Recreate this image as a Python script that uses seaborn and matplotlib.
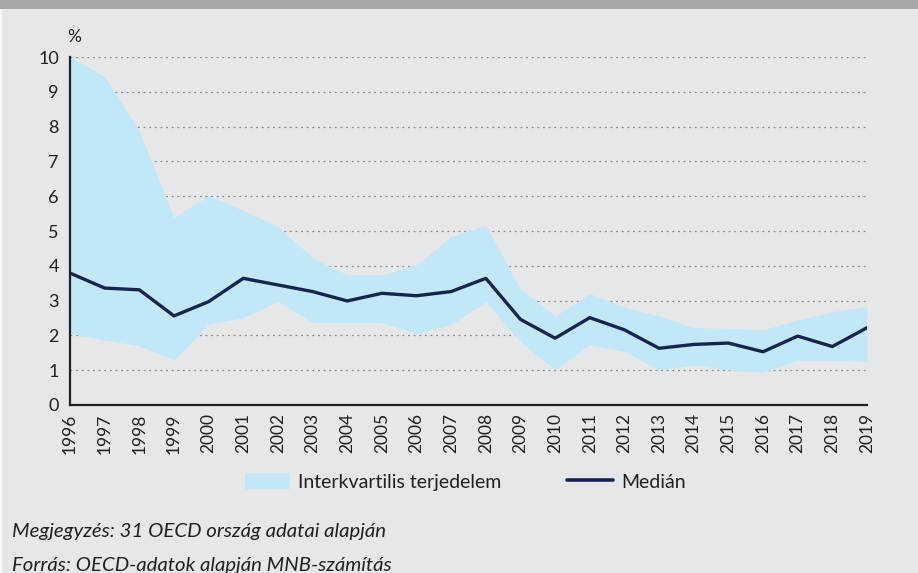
import matplotlib
matplotlib.use("Agg")
import matplotlib.pyplot as plt
import pandas as pd
import seaborn as sns
from matplotlib.lines import Line2D
from matplotlib.patches import Patch, Rectangle

# --- data ---
years = list(range(1996, 2020))
q_upper = [10.0, 9.44, 7.86, 5.39, 6.02, 5.59, 5.13, 4.23, 3.74, 3.74, 4.03, 4.84,
           5.16, 3.33, 2.56, 3.20, 2.81, 2.56, 2.22, 2.21, 2.16, 2.44, 2.68, 2.83]
q_lower = [2.06, 1.87, 1.70, 1.29, 2.33, 2.51, 2.97, 2.37, 2.37, 2.37, 2.06, 2.32,
           2.97, 1.82, 1.01, 1.73, 1.54, 1.01, 1.15, 1.01, 0.94, 1.29, 1.29, 1.25]
median = [3.79, 3.36, 3.31, 2.56, 2.97, 3.64, 3.45, 3.26, 2.99, 3.21, 3.14, 3.26,
          3.64, 2.46, 1.92, 2.51, 2.16, 1.63, 1.74, 1.78, 1.53, 1.98, 1.68, 2.22]

band_label = "Interkvartilis terjedelem"
median_label = "Medián"
note_text = "Megjegyzés: 31 OECD ország adatai alapján"
source_text = "Forrás: OECD-adatok alapján MNB-számítás"

BG = "#e6e7e9"
BAND = "#c2e7f6"
NAVY = "#15254d"
AXIS = "#231f20"

df = pd.DataFrame({"year": years, "median": median, "lo": q_lower, "hi": q_upper})

sns.set_style("white")
plt.rcParams["font.family"] = ["Lato", "DejaVu Sans"]

fig = plt.figure(figsize=(9.18, 5.73), dpi=100, facecolor=BG)
ax = fig.add_axes([0.0763, 0.2932, 0.8681, 0.6073])
ax.set_facecolor(BG)

# top grey strip and thin light edge on the left
fig.patches.append(Rectangle((0, 1 - 9 / 573), 1, 9 / 573, transform=fig.transFigure,
                             facecolor="#a7a8ab", edgecolor="none", zorder=0))
fig.patches.append(Rectangle((0, 0), 2 / 918, 1 - 9 / 573, transform=fig.transFigure,
                             facecolor="#f6f6f7", edgecolor="none", zorder=0))

ax.fill_between(df["year"], df["lo"], df["hi"], color=BAND, linewidth=0, zorder=1)
sns.lineplot(data=df, x="year", y="median", color=NAVY, linewidth=2.4, ax=ax, zorder=3)

ax.set_xlim(1996, 2019)
ax.set_ylim(0, 10)
ax.set_yticks(range(0, 11))
ax.set_xticks(years)
ax.set_xticklabels([str(y) for y in years], rotation=90)
ax.set_xlabel("")
ax.set_ylabel("")

ax.yaxis.grid(True, linestyle=(0, (1.5, 3)), color="#8a8a8a", linewidth=0.9, zorder=0)
ax.set_axisbelow(True)

for side in ["top", "right"]:
    ax.spines[side].set_visible(False)
for side in ["left", "bottom"]:
    ax.spines[side].set_color(AXIS)
    ax.spines[side].set_linewidth(1.6)
    ax.spines[side].set_zorder(4)

ax.tick_params(axis="y", direction="out", length=4, width=1.4, color=AXIS,
               labelsize=13, labelcolor=AXIS, pad=4)
ax.tick_params(axis="x", direction="out", length=4, width=1.4, color=AXIS,
               labelsize=12.5, labelcolor=AXIS, pad=2)

ax.text(-0.003, 1.035, "%", transform=ax.transAxes, fontsize=12.5, color=AXIS,
        ha="left", va="bottom")

handles = [Patch(facecolor=BAND, edgecolor="none"),
           Line2D([0], [0], color=NAVY, linewidth=2.6)]
fig.legend(handles, [band_label, median_label], loc="center",
           bbox_to_anchor=(0.5065, 1 - 482 / 573), ncol=2, frameon=False,
           fontsize=14, handlelength=2.35, handleheight=0.9, handletextpad=0.4,
           columnspacing=3.4, labelcolor=AXIS)

fig.text(12 / 918, 1 - 537 / 573, note_text, fontsize=14.7, style="italic",
         color=AXIS, ha="left", va="baseline")
fig.text(12 / 918, 1 - 571 / 573, source_text, fontsize=14.7, style="italic",
         color=AXIS, ha="left", va="baseline")

fig.savefig("out.png", dpi=100, facecolor=BG)
plt.close(fig)
